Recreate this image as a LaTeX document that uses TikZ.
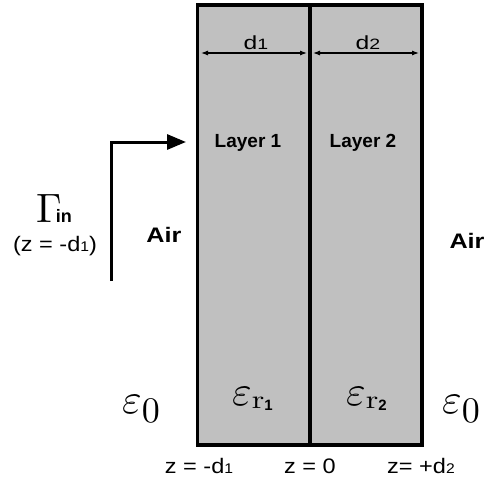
\documentclass[tikz,border=0pt]{standalone}
\usepackage{graphicx}
\usepackage[no-math]{fontspec}
\setmainfont{Liberation Sans}
\newfontfamily\widea[FakeStretch=1.12]{Liberation Sans}
\newfontfamily\wideb[FakeStretch=1.3]{Liberation Sans}
\newfontfamily\widec[FakeStretch=1.2]{Liberation Sans}
\usetikzlibrary{arrows.meta}
\definecolor{layergray}{RGB}{192,192,192}
\newcommand{\fs}[1]{\fontsize{#1}{#1}\selectfont}
\newcommand{\scmath}[2]{\scalebox{#1}{$#2$}}
\tikzset{
  layerbox/.style={draw=black, fill=layergray, line width=3.5pt},
  dimline/.style={line width=1.1pt, {Latex[length=7pt,width=5pt]}-{Latex[length=7pt,width=5pt]}},
  feedline/.style={line width=3pt, -{Triangle[length=19pt,width=15pt]}},
  lbl/.style={inner sep=0pt, font=\widea\fs{21}},
  dlbl/.style={inner sep=0pt, font=\wideb\fs{19}},
  airlbl/.style={inner sep=0pt, font=\widec\fs{21}\bfseries},
  boldlbl/.style={inner sep=0pt, font=\fs{19}\bfseries},
  eps/.style={inner sep=0pt, anchor=base west}
}
\begin{document}
\begin{tikzpicture}[x=1pt,y=-1pt]
\useasboundingbox (0,0) rectangle (492,487);
% layers
\path[layerbox] (197.5,5) rectangle (310,445);
\path[layerbox] (310,5) rectangle (422,445);
% dimension arrows
\coordinate (d1a) at (201,53);
\coordinate (d1b) at (307,53);
\coordinate (d2a) at (313,53);
\coordinate (d2b) at (419,53);
\draw[dimline] (d1a) -- (d1b);
\draw[dimline] (d2a) -- (d2b);
\node[dlbl, anchor=base] (d1) at (256,50) {d{\fs{15}1}};
\node[dlbl, anchor=base] (d2) at (368,50) {d{\fs{15}2}};
% layer labels
\node[boldlbl] (L1) at (248,143) {Layer 1};
\node[boldlbl] (L2) at (363,143) {Layer 2};
% feed arrow
\coordinate (gs) at (111,281);
\coordinate (gc) at (111,142);
\coordinate (ge) at (186,142);
\draw[feedline] (gs) -- (gc) -- (ge);
% gamma
\node[inner sep=0pt, anchor=base west] (gamma) at (36,222) {\scmath{4.1}{\Gamma}\kern-6pt{\fs{18}\bfseries in}};
\node[lbl] (zin) at (55,246) {(z = -d{\fs{14}1})};
% air
\node[airlbl] (airL) at (164,235) {Air};
\node[airlbl] (airR) at (467,241) {Air};
% epsilons
\node[eps] (e0L) at (122,413) {\scmath{4.2}{\varepsilon}\raisebox{-9pt}{\scmath{3.6}{0}}};
\node[eps] (er1) at (232,405) {\scmath{4.2}{\varepsilon}\raisebox{-3pt}{\scalebox{3.2}[2.6]{$\mathrm{r}$}}\raisebox{-5pt}{\fs{15}\bfseries 1}};
\node[eps] (er2) at (346,405) {\scmath{4.2}{\varepsilon}\raisebox{-3pt}{\scalebox{3.2}[2.6]{$\mathrm{r}$}}\raisebox{-5pt}{\fs{15}\bfseries 2}};
\node[eps] (e0R) at (442,413) {\scmath{4.2}{\varepsilon}\raisebox{-9pt}{\scmath{3.6}{0}}};
% z labels
\node[lbl] (zA) at (199,466) {z = -d{\fs{14}1}};
\node[lbl] (zB) at (310,466) {z = 0};
\node[lbl] (zC) at (421,466) {z= +d{\fs{14}2}};
\end{tikzpicture}
\end{document}
